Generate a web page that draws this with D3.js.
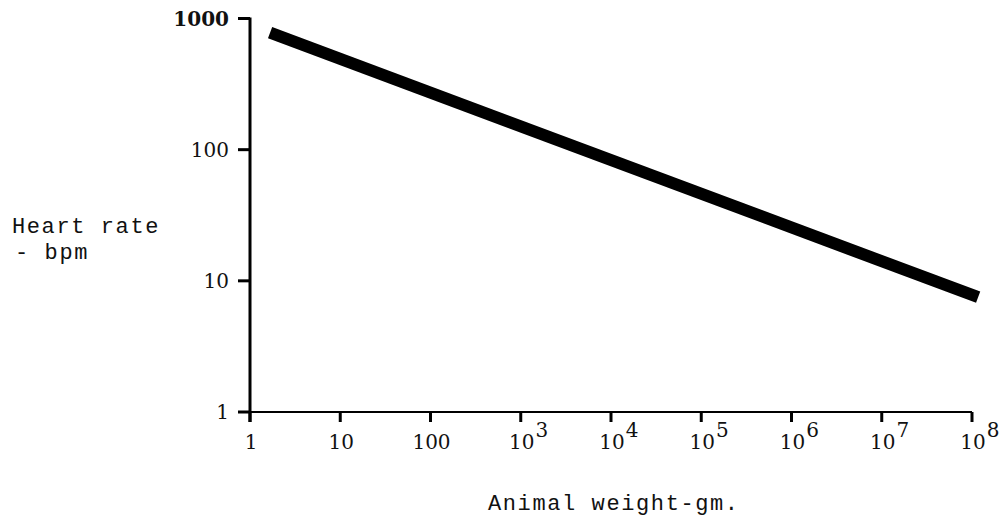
<!DOCTYPE html>
<html>
<head>
<meta charset="utf-8">
<script src="https://cdn.jsdelivr.net/npm/d3@7"></script>
<style>
  body { margin: 0; background: #fff; }
  svg { display: block; }
  .tick-label { font-family: "DejaVu Serif", serif; font-size: 20px; fill: #111; }
  .title { font-family: "Liberation Mono", monospace; font-size: 22px; letter-spacing: 1.6px; fill: #111; }
</style>
</head>
<body>
<div id="chart"></div>
<script>
// weight (gm) vs heart rate (bpm)
const weights = [1.67, 1.17e8];
const heartRates = [780, 7.5];

const xTicks = [1, 10, 100, 1e3, 1e4, 1e5, 1e6, 1e7, 1e8];
const xTickBase = ["1", "10", "100", "10", "10", "10", "10", "10", "10"];
const xTickExp = ["", "", "", "3", "4", "5", "6", "7", "8"];
const yTicks = [1, 10, 100, 1000];
const yTickLabels = ["1", "10", "100", "1000"];

const width = 999, height = 518;

let svg = d3.select('#chart').append('svg')
    .attr('width', width)
    .attr('height', height);

let x = d3.scaleLog().domain([1, 1e8]).range([250, 972]);
let y = d3.scaleLog().domain([1, 1000]).range([412, 18.5]);

// axis lines
svg.append('line')
    .attr('x1', 240).attr('x2', x(1e8))
    .attr('y1', y(1)).attr('y2', y(1))
    .attr('stroke', '#000').attr('stroke-width', 2.2);

svg.append('line')
    .attr('x1', x(1)).attr('x2', x(1))
    .attr('y1', y(1000) - 1).attr('y2', y(1) + 10)
    .attr('stroke', '#000').attr('stroke-width', 3);

// x ticks
let xTickData = xTicks.map((v, i) => ({ v: v, base: xTickBase[i], exp: xTickExp[i] }));

let xAxis = svg.append('g');
xAxis.selectAll('line')
    .data(xTickData)
    .enter().append('line')
    .attr('x1', d => x(d.v)).attr('x2', d => x(d.v))
    .attr('y1', y(1)).attr('y2', y(1) + 10)
    .attr('stroke', '#000').attr('stroke-width', 3);

let xLabels = xAxis.selectAll('text')
    .data(xTickData)
    .enter().append('text')
    .attr('class', 'tick-label')
    .attr('y', 449);

xLabels.append('tspan')
    .attr('class', 'base')
    .text(d => d.base);

xLabels.filter(d => d.exp !== '')
    .append('tspan')
    .attr('dy', -12)
    .attr('dx', 1)
    .text(d => d.exp);

// centre the base number under its tick, exponent hangs to the right
xLabels.each(function(d) {
    let base = d3.select(this).select('tspan.base');
    let w = base.node().getComputedTextLength();
    base.attr('x', x(d.v) - w / 2 + 1);
});

// y ticks
let yAxis = svg.append('g');
yAxis.selectAll('line')
    .data(yTicks)
    .enter().append('line')
    .attr('x1', 238).attr('x2', x(1))
    .attr('y1', d => y(d)).attr('y2', d => y(d))
    .attr('stroke', '#000').attr('stroke-width', 3);

yAxis.selectAll('text')
    .data(yTicks)
    .enter().append('text')
    .attr('class', 'tick-label')
    .attr('x', 229)
    .attr('y', d => y(d) + 7)
    .attr('text-anchor', 'end')
    .style('font-weight', d => d === 1000 ? 'bold' : 'normal')
    .text((d, i) => yTickLabels[i]);

// the fitted line
let line = d3.line()
    .x((d, i) => x(weights[i]))
    .y((d, i) => y(heartRates[i]));

svg.append('path')
    .datum(weights)
    .attr('d', line)
    .attr('fill', 'none')
    .attr('stroke', '#000')
    .attr('stroke-width', 12)
    .attr('stroke-linecap', 'butt');

// titles
svg.append('text').attr('class', 'title')
    .attr('x', 12).attr('y', 233)
    .text('Heart rate');
svg.append('text').attr('class', 'title')
    .attr('x', 15).attr('y', 259)
    .text('- bpm');
svg.append('text').attr('class', 'title')
    .attr('x', 488).attr('y', 510)
    .text('Animal weight-gm.');
</script>
</body>
</html>
